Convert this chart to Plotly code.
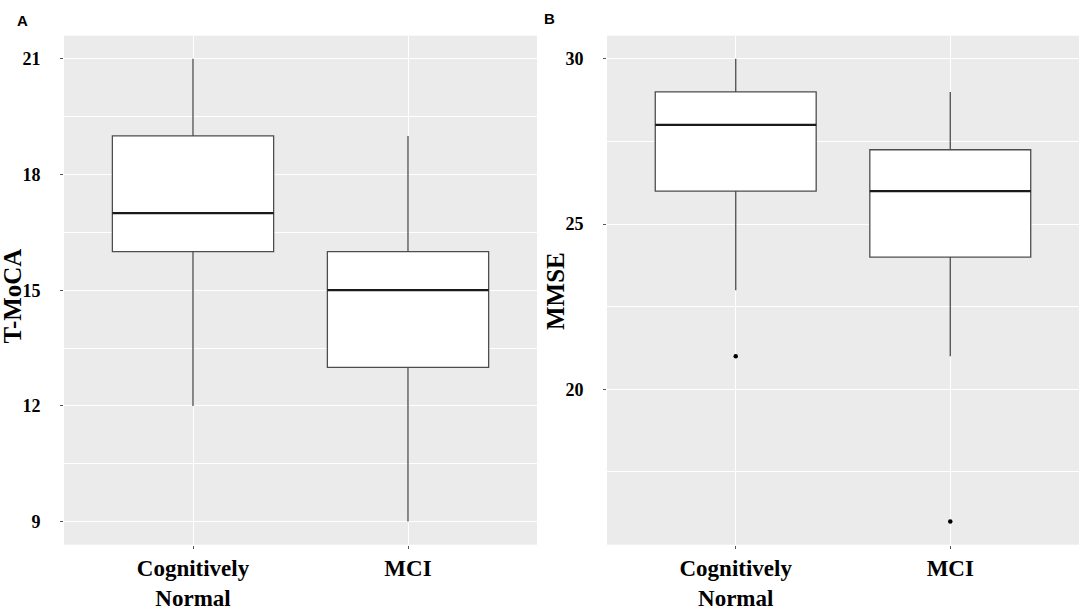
import plotly.graph_objects as go

W, H = 1084, 613

groups = ["Cognitively<br>Normal", "MCI"]

# panel A: T-MoCA
tmoca_q1 = [16, 13]
tmoca_median = [17, 15]
tmoca_q3 = [19, 16]
tmoca_low = [12, 9]
tmoca_high = [21, 19]
tmoca_ticks = [9, 12, 15, 18, 21]

# panel B: MMSE
mmse_q1 = [26, 24]
mmse_median = [28, 26]
mmse_q3 = [29, 27.25]
mmse_low = [23, 21]
mmse_high = [30, 29]
mmse_ticks = [20, 25, 30]
mmse_outlier_x = ["Cognitively<br>Normal", "MCI"]
mmse_outlier_y = [21, 16]

SERIF = "Liberation Serif, Times New Roman, serif"
SANS = "Liberation Sans, Arial, sans-serif"
BOX_LINE = "#4d4d4d"
TICK_COL = "#555555"


def px_x(p):
    return p / W


def px_y(p):
    return 1 - p / H


fig = go.Figure()


def add_box(q1, med, q3, low, high, xa, ya):
    fig.add_trace(go.Box(
        x=groups, q1=q1, median=med, q3=q3,
        lowerfence=low, upperfence=high,
        fillcolor="white", line=dict(color=BOX_LINE, width=1.3),
        whiskerwidth=0, width=0.75, boxpoints=False,
        showlegend=False, hoverinfo="skip",
        xaxis=xa, yaxis=ya,
    ))
    # thicker median line, like ggplot's fattened median
    fig.add_trace(go.Box(
        x=groups, q1=med, median=med, q3=med,
        lowerfence=med, upperfence=med,
        fillcolor="rgba(0,0,0,0)", line=dict(color="#1a1a1a", width=2.2),
        whiskerwidth=0, width=0.75, boxpoints=False,
        showlegend=False, hoverinfo="skip",
        xaxis=xa, yaxis=ya,
    ))


add_box(tmoca_q1, tmoca_median, tmoca_q3, tmoca_low, tmoca_high, "x", "y")
add_box(mmse_q1, mmse_median, mmse_q3, mmse_low, mmse_high, "x2", "y2")

fig.add_trace(go.Scatter(
    x=mmse_outlier_x, y=mmse_outlier_y, mode="markers",
    marker=dict(color="black", size=4.5),
    showlegend=False, hoverinfo="skip", xaxis="x2", yaxis="y2",
))

ydom = [px_y(544.7), px_y(35.7)]

xcommon = dict(
    type="category", range=[-0.6, 1.6],
    showgrid=True, gridcolor="white", gridwidth=1.2,
    zeroline=False, showline=False,
    ticks="outside", ticklen=3, tickcolor=TICK_COL, tickwidth=1,
    tickfont=dict(family=SERIF, size=23, color="black", weight="bold"),
    automargin=False,
)
ycommon = dict(
    showgrid=True, gridcolor="white", gridwidth=1.2,
    zeroline=False, showline=False,
    ticks="outside", ticklen=3, tickcolor=TICK_COL, tickwidth=1,
    tickfont=dict(family=SERIF, size=18, color="black", weight="bold"),
    ticklabelstandoff=16,
    automargin=False,
)

fig.update_layout(
    width=W, height=H,
    margin=dict(l=0, r=0, t=0, b=0),
    paper_bgcolor="white",
    plot_bgcolor="#EBEBEB",
    xaxis=dict(xcommon, domain=[px_x(64), px_x(537)], anchor="y"),
    xaxis2=dict(xcommon, domain=[px_x(607), px_x(1079)], anchor="y2"),
    yaxis=dict(ycommon, domain=ydom, anchor="x", range=[8.4, 21.6],
               tickvals=tmoca_ticks,
               minor=dict(dtick=1.5, tick0=9, showgrid=True,
                          gridcolor="white", gridwidth=0.6)),
    yaxis2=dict(ycommon, domain=ydom, anchor="x2", range=[15.3, 30.7],
                tickvals=mmse_ticks,
                minor=dict(dtick=2.5, tick0=20, showgrid=True,
                           gridcolor="white", gridwidth=0.6)),
    annotations=[
        dict(text="<b>A</b>", x=px_x(15), y=px_y(20), xref="paper", yref="paper",
             xanchor="left", yanchor="middle", showarrow=False,
             font=dict(family=SANS, size=15, color="black")),
        dict(text="<b>B</b>", x=px_x(542), y=px_y(19), xref="paper", yref="paper",
             xanchor="left", yanchor="middle", showarrow=False,
             font=dict(family=SANS, size=15, color="black")),
        dict(text="<b>T-MoCA</b>", x=px_x(11.5), y=px_y(296),
             xref="paper", yref="paper", textangle=-90,
             xanchor="center", yanchor="middle", showarrow=False,
             font=dict(family=SERIF, size=25, color="black")),
        dict(text="<b>MMSE</b>", x=px_x(555), y=px_y(291),
             xref="paper", yref="paper", textangle=-90,
             xanchor="center", yanchor="middle", showarrow=False,
             font=dict(family=SERIF, size=25, color="black")),
    ],
)

# drop the browser's default 8px body margin so the page lines up with the canvas
fig.write_html("out.html", config={"displayModeBar": False},
               post_script="document.body.style.margin = '0';")
